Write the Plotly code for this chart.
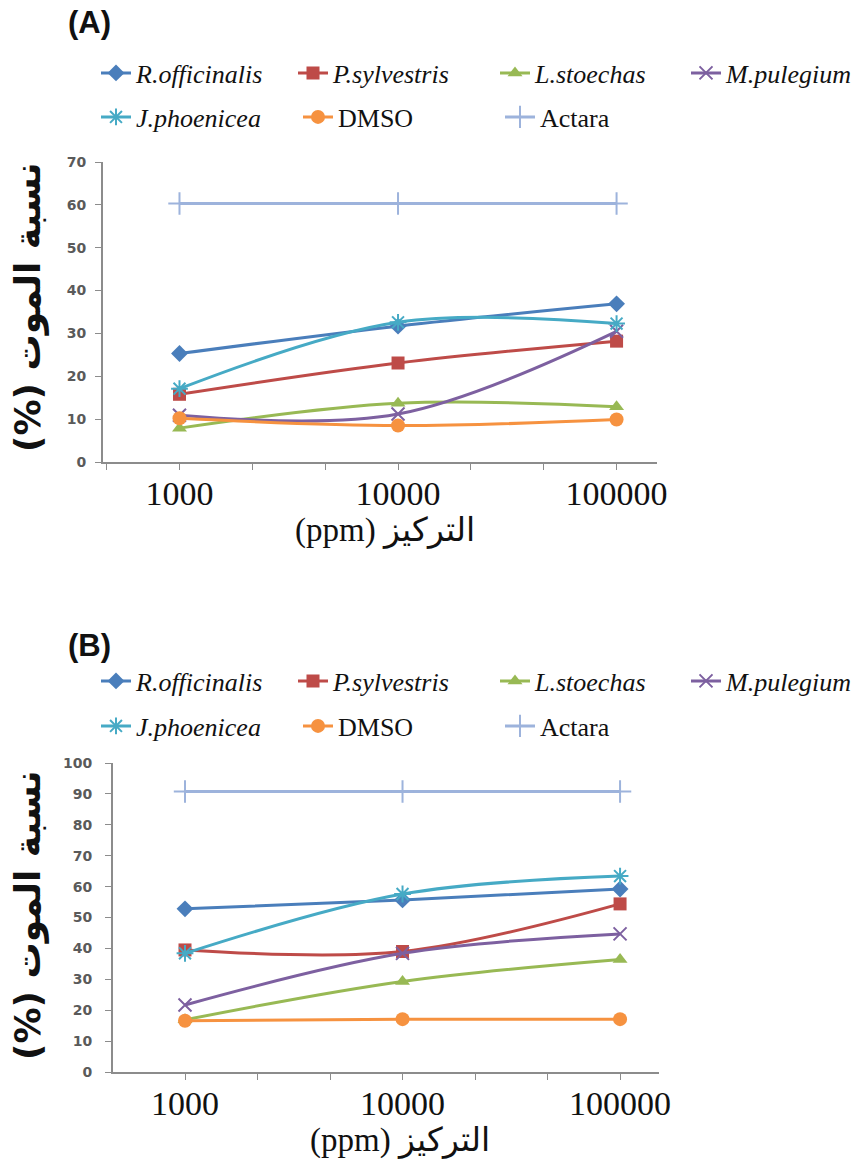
import plotly.graph_objects as go

W, H = 863, 1169

# Concentrations (ppm)
concentrations = [1000, 10000, 100000]

series_names = ["R.officinalis", "P.sylvestris", "L.stoechas", "M.pulegium",
                "J.phoenicea", "DMSO", "Actara"]
italic = [True, True, True, True, True, False, False]

# Mortality (%) — panel A
mort_a_roff = [25.3, 31.7, 36.9]
mort_a_psyl = [15.8, 23.1, 28.2]
mort_a_lsto = [7.9, 13.7, 12.9]
mort_a_mpul = [10.9, 11.2, 30.5]
mort_a_jpho = [17.1, 32.6, 32.3]
mort_a_dmso = [10.2, 8.5, 9.9]
mort_a_actara = [60.3, 60.3, 60.3]

# Mortality (%) — panel B
mort_b_roff = [52.8, 55.7, 59.2]
mort_b_psyl = [39.5, 39.0, 54.4]
mort_b_lsto = [16.9, 29.3, 36.4]
mort_b_mpul = [21.7, 38.4, 44.7]
mort_b_jpho = [38.4, 57.6, 63.4]
mort_b_dmso = [16.6, 17.1, 17.1]
mort_b_actara = [90.8, 90.8, 90.8]

panel_a = [mort_a_roff, mort_a_psyl, mort_a_lsto, mort_a_mpul,
           mort_a_jpho, mort_a_dmso, mort_a_actara]
panel_b = [mort_b_roff, mort_b_psyl, mort_b_lsto, mort_b_mpul,
           mort_b_jpho, mort_b_dmso, mort_b_actara]

x_ticks = [10 ** (n / 3) for n in range(8, 16)]
x_ticktext = ["", "1000", "", "", "10000", "", "", "100000"]

y_title = "(%) نسبة الموت"
x_title = "(ppm) التركيز"

colors = ["#4A7EBB", "#BE4B48", "#98B954", "#7D60A0", "#46AAC5", "#F69240", "#9DB3DC"]
symbols = ["diamond", "square", "triangle-up", "x-thin-open", "asterisk-open",
           "circle", "cross-thin-open"]
msizes = [13, 13, 13, 13, 14, 14, 16]
legend_widths = [152, 157, 146, 135, 157, 157, 100]

AXIS_GREY = "#8C8C8C"
SERIF = "Liberation Serif, Times New Roman, serif"


def px_x(p):
    return p / W


def px_y(p):
    return 1 - p / H


fig = go.Figure()

for panel, data, (xa, ya), legs in [
    ("A", panel_a, ("x", "y"), ("legend", "legend2")),
    ("B", panel_b, ("x2", "y2"), ("legend3", "legend4")),
]:
    for i, name in enumerate(series_names):
        label = f"<i>{name}</i>" if italic[i] else name
        open_sym = symbols[i].endswith("open")
        fig.add_trace(go.Scatter(
            x=concentrations, y=data[i], name=label,
            xaxis=xa, yaxis=ya,
            mode="lines+markers",
            line=dict(color=colors[i], width=3, shape="spline", smoothing=1.0),
            marker=dict(symbol=symbols[i], size=msizes[i], color=colors[i],
                        line=dict(color=colors[i], width=2 if open_sym else 0)),
            legend=legs[0] if i < 4 else legs[1],
            legendwidth=legend_widths[i],
            hoverinfo="x+y+name",
        ))


def xaxis_style(dom, rng, anchor):
    return dict(
        domain=dom, type="log", range=rng, anchor=anchor,
        tickmode="array", tickvals=x_ticks, ticktext=x_ticktext,
        ticks="outside", ticklen=6, tickwidth=1.3, tickcolor=AXIS_GREY,
        ticklabelstandoff=-6,
        showline=True, linecolor=AXIS_GREY, linewidth=2,
        showgrid=False, zeroline=False,
        tickfont=dict(family=SERIF, size=34, color="#111111"),
        fixedrange=True,
    )


def yaxis_style(dom, top, anchor, standoff):
    return dict(
        domain=dom, range=[0, top], dtick=10, tick0=0, anchor=anchor,
        ticks="outside", ticklen=6, tickwidth=1.3, tickcolor=AXIS_GREY,
        ticklabelstandoff=standoff,
        showline=True, linecolor=AXIS_GREY, linewidth=2,
        showgrid=False, zeroline=False,
        tickfont=dict(family="DejaVu Sans, sans-serif", size=14,
                      color="#5A5A5A", weight=700),
        fixedrange=True,
    )


legend_common = dict(
    orientation="h", xanchor="left", yanchor="middle",
    bgcolor="rgba(0,0,0,0)", borderwidth=0,
    font=dict(family=SERIF, size=26, color="#111111"),
    itemwidth=30, itemclick=False, itemdoubleclick=False,
)

fig.update_layout(
    width=W, height=H,
    margin=dict(l=0, r=0, t=0, b=0, autoexpand=False),
    paper_bgcolor="white", plot_bgcolor="white",
    xaxis=xaxis_style([px_x(103), px_x(657)], [2.65, 5.185], "y"),
    yaxis=yaxis_style([px_y(462), px_y(162)], 70, "x", 6),
    xaxis2=xaxis_style([px_x(113), px_x(659)], [2.669, 5.179], "y2"),
    yaxis2=yaxis_style([px_y(1072), px_y(763)], 100, "x2", 10),
    legend=dict(x=px_x(96), y=px_y(73), **legend_common),
    legend2=dict(x=px_x(96), y=px_y(117), **legend_common),
    legend3=dict(x=px_x(96), y=px_y(681), **legend_common),
    legend4=dict(x=px_x(96), y=px_y(726), **legend_common),
    showlegend=True,
)

annotations = [
    dict(text="<b>(A)</b>", x=px_x(66), y=px_y(22), xanchor="left", yanchor="middle",
         font=dict(family="Liberation Sans, Arial, sans-serif", size=31, color="#111111")),
    dict(text="<b>(B)</b>", x=px_x(66), y=px_y(645), xanchor="left", yanchor="middle",
         font=dict(family="Liberation Sans, Arial, sans-serif", size=31, color="#111111")),
    dict(text=f"<b>{y_title}</b>", x=px_x(28), y=px_y(308), textangle=-90,
         xanchor="center", yanchor="middle",
         font=dict(family="DejaVu Sans, sans-serif", size=36, color="#111111")),
    dict(text=f"<b>{y_title}</b>", x=px_x(28), y=px_y(916), textangle=-90,
         xanchor="center", yanchor="middle",
         font=dict(family="DejaVu Sans, sans-serif", size=36, color="#111111")),
    dict(text=x_title, x=px_x(385), y=px_y(531), xanchor="center", yanchor="middle",
         font=dict(family=SERIF, size=33, color="#111111")),
    dict(text=x_title, x=px_x(400), y=px_y(1141), xanchor="center", yanchor="middle",
         font=dict(family=SERIF, size=33, color="#111111")),
]
for a in annotations:
    a.update(xref="paper", yref="paper", showarrow=False)
fig.update_layout(annotations=annotations)

fig.write_html("out.html", config={"displayModeBar": False})
